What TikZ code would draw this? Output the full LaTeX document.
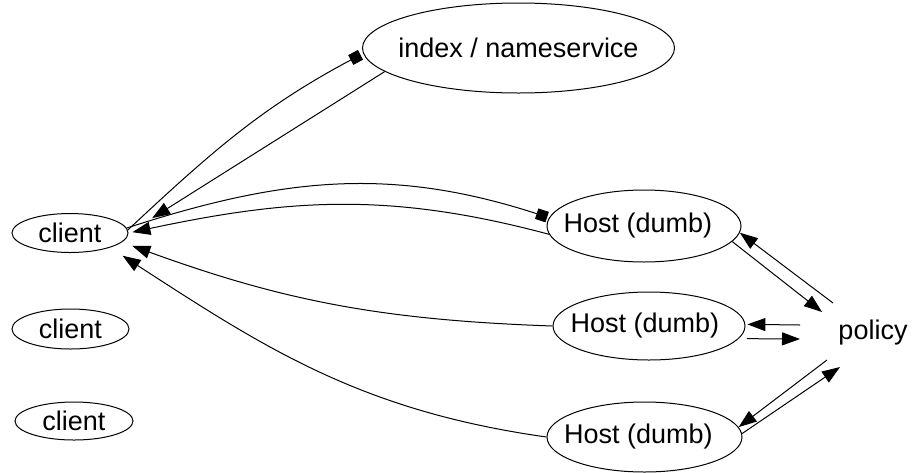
\documentclass[tikz,border=0pt]{standalone}
\usepackage{fontspec}
\setmainfont{Liberation Sans}
\usetikzlibrary{shapes.geometric,arrows.meta,calc}

% label that does not widen its ellipse, nudged left by half of #1
\newcommand{\lbl}[2][0pt]{\makebox[0pt][c]{#2\hspace{#1}}}

\tikzset{
  oval/.style={ellipse, draw, line width=1pt, inner sep=0pt,
    font=\fontsize{27}{32}\selectfont},
  plain/.style={inner sep=0pt, font=\fontsize{27}{32}\selectfont},
  link/.style={line width=1pt},
  tri/.style={-{Triangle[length=18pt,width=13pt]}},
  sq/.style={{Square[length=11pt,width=11pt]}-},
  sqend/.style={-{Square[length=11pt,width=11pt]}},
}

\begin{document}
\begin{tikzpicture}[x=1pt,y=-1pt]
  \useasboundingbox (0,0) rectangle (915,472);

  % nodes
  \node[oval, minimum width=312pt, minimum height=90pt] (ix) at (518.5,48) {\lbl{index / nameservice}};
  \node[oval, minimum width=194pt, minimum height=72pt] (h1) at (644,226) {\lbl[12pt]{Host (dumb)}};
  \node[oval, minimum width=192pt, minimum height=68pt] (h2) at (649,326) {\lbl[8pt]{Host (dumb)}};
  \node[oval, minimum width=195pt, minimum height=70pt] (h3) at (644.5,437) {\lbl[12pt]{Host (dumb)}};
  \node[oval, minimum width=116pt, minimum height=39pt] (c1) at (70,233) {client};
  \node[oval, minimum width=117pt, minimum height=40pt] (c2) at (70.5,329) {client};
  \node[oval, minimum width=118pt, minimum height=38pt] (c3) at (74,421) {client};
  \node[plain] (policy) at (873,333) {policy};

  % free ends of the policy links
  \coordinate (p1) at ($(policy)+(-40,-30)$);
  \coordinate (p2) at ($(policy)+(-51,-21)$);
  \coordinate (p3) at ($(policy)+(-73,-8)$);
  \coordinate (p4) at ($(policy)+(-73,6)$);
  \coordinate (p5) at ($(policy)+(-46,27)$);
  \coordinate (p6) at ($(policy)+(-33,34)$);

  % index <-> client
  \draw[link, sq, shorten <=3pt] (ix.182) to[out=208,in=43] (c1.3);
  \draw[link, tri, shorten >=28pt] (ix.190) -- (c1.east);

  % client <-> hosts
  \draw[link, sqend, shorten >=2pt] (c1.5) to[out=18,in=162] (h1.175);
  \draw[link, tri, shorten >=4pt] (h1.185) to[out=165,in=12] (c1.east);
  \draw[link, tri, shorten >=11pt] (h2.west) to[out=178,in=-20] (c1.-10);
  \draw[link, tri, shorten >=15pt] (h3.west) to[out=172,in=-33] (c1.-20);

  % hosts <-> policy
  \draw[link, tri] (p1) -- (h1.-4);
  \draw[link, tri] (h1.-10) -- (p2);
  \draw[link, tri, shorten >=2pt] (p3) -- (h2.1);
  \draw[link, tri, shorten <=8pt] (h2.-8) -- (p4);
  \draw[link, tri] (p5) -- (h3.6);
  \draw[link, tri] (h3.2) -- (p6);
\end{tikzpicture}
\end{document}
